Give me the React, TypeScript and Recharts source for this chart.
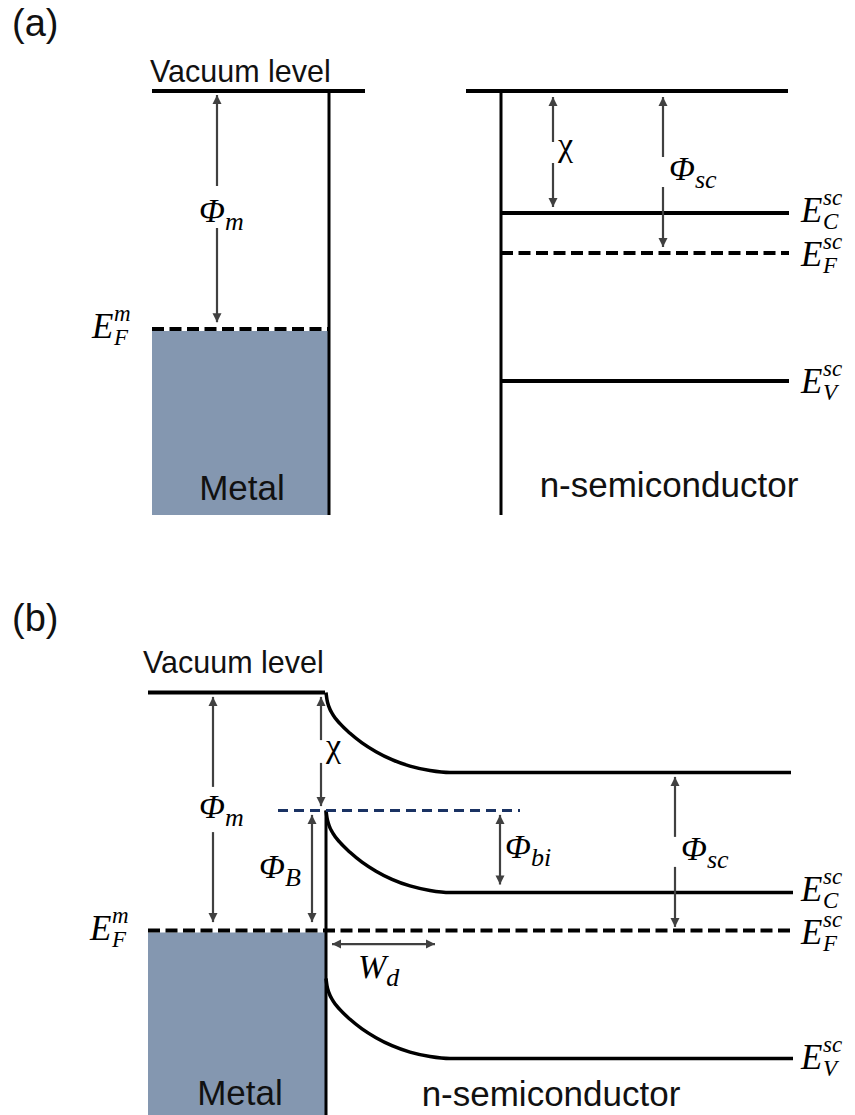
import React from "react";
import {
  ComposedChart,
  Line,
  ReferenceArea,
  ReferenceDot,
  ReferenceLine,
  XAxis,
  YAxis,
} from "recharts";

/* Metal / n-semiconductor band diagrams drawn on two Recharts charts:
   (a) the two materials apart, (b) the Schottky contact at equilibrium.
   x is a position along the diagram, y is energy in eV. */

const WIDTH = 855;
const H_A = 557;
const H_B = 558;
const PX_PER_EV = 40;

const INK = "#000000";
const ARROW = "#404040";
const METAL = "#8497b0";
const NAVY = "#1a3263";
const SANS = "'Liberation Sans', Arial, sans-serif";
const SERIF = "'Liberation Serif', 'Times New Roman', serif";
const DASH = "12 5.5";

// ---------- (a) separated materials, energy measured from the vacuum level
const A_TOP = 2.275;
const A_SOLID = [
  { x1: 152, x2: 365, e: 0 }, // metal vacuum level
  { x1: 466, x2: 788, e: 0 }, // semiconductor vacuum level
  { x1: 501, x2: 789, e: -3.05 }, // E_C
  { x1: 501, x2: 789, e: -7.25 }, // E_V
];
const A_DASHED = [
  { x1: 152, x2: 329, e: -5.95 }, // metal Fermi level
  { x1: 501, x2: 789, e: -4.05 }, // semiconductor Fermi level
];
const A_WALLS = [
  { x: 329, e1: 0, e2: -10.6 },
  { x: 501, e1: 0, e2: -10.6 },
];
const A_METAL = { x1: 152, x2: 329, e1: -6.0, e2: -10.6 };
const A_ARROWS = [
  { x1: 217, e1: -2.375, x2: 217, e2: -0.1, both: false },
  { x1: 217, e1: -3.425, x2: 217, e2: -5.78, both: false },
  { x1: 553, e1: -1.275, x2: 553, e2: -0.15, both: false },
  { x1: 553, e1: -1.8, x2: 553, e2: -2.9, both: false },
  { x1: 663, e1: -1.65, x2: 663, e2: -0.15, both: false },
  { x1: 663, e1: -2.4, x2: 663, e2: -3.9, both: false },
];
const A_TEXT = [
  { t: "(a)", x: 12, e: 1.375, size: 38, anchor: "start" },
  { t: "Vacuum level", x: 150, e: 0.225, size: 30.5, anchor: "start" },
  { t: "Metal", x: 242, e: -10.225, size: 35, anchor: "middle" },
  { t: "n-semiconductor", x: 669, e: -10.15, size: 35, anchor: "middle" },
];
const A_SYMBOLS = [
  { base: "Φ", sub: "m", x: 199, e: -3.275 },
  { base: "χ", x: 558, e: -1.62, upright: true },
  { base: "Φ", sub: "sc", x: 669, e: -2.225 },
  { base: "E", sub: "F", sup: "m", x: 92, e: -6.175 },
  { base: "E", sub: "C", sup: "sc", x: 801, e: -3.28 },
  { base: "E", sub: "F", sup: "sc", x: 801, e: -4.37 },
  { base: "E", sub: "V", sup: "sc", x: 801, e: -7.55 },
];

// ---------- (b) contact, energy measured from the common Fermi level
const B_TOP = 9.3375;
const B_SOLID = [{ x1: 148, x2: 325, e: 5.95 }]; // metal vacuum level
const B_DASHED = [{ x1: 148, x2: 790, e: 0 }]; // Fermi level
const B_NAVY = [{ x1: 278, x2: 520, e: 3.0 }]; // barrier top
const B_WALLS = [{ x: 326, e1: 3.0, e2: -4.65 }];
const B_METAL = { x1: 148, x2: 326, e1: -0.05, e2: -4.65 };

// band bending across the depletion region
const BEND_X = [326, 327, 329, 333, 340, 350, 362, 376, 392, 410, 430, 450];
const BEND_FRAC = [0, 0.09, 0.18, 0.28, 0.39, 0.51, 0.63, 0.74, 0.84, 0.92, 0.975, 1];
const B_BANDS = [
  { name: "vacuum", start: 5.95, bulk: 3.95, end: 791 },
  { name: "Ec", start: 3.0, bulk: 0.95, end: 793 },
  { name: "Ev", start: -1.2, bulk: -3.2, end: 793 },
];

const B_ARROWS = [
  { x1: 213, e1: 3.59, x2: 213, e2: 5.84, both: false },
  { x1: 213, e1: 2.46, x2: 213, e2: 0.21, both: false },
  { x1: 321, e1: 4.76, x2: 321, e2: 5.84, both: false },
  { x1: 321, e1: 4.19, x2: 321, e2: 3.11, both: false },
  { x1: 312, e1: 2.89, x2: 312, e2: 0.21, both: true },
  { x1: 500, e1: 2.89, x2: 500, e2: 1.15, both: true },
  { x1: 675, e1: 2.34, x2: 675, e2: 3.84, both: false },
  { x1: 675, e1: 1.59, x2: 675, e2: 0.09, both: false },
  { x1: 332, e1: -0.34, x2: 435, e2: -0.34, both: true },
];
const B_TEXT = [
  { t: "(b)", x: 12, e: 7.49, size: 38, anchor: "start" },
  { t: "Vacuum level", x: 143, e: 6.44, size: 30.5, anchor: "start" },
  { t: "Metal", x: 240, e: -4.36, size: 35, anchor: "middle" },
  { t: "n-semiconductor", x: 551, e: -4.39, size: 35, anchor: "middle" },
];
const B_SYMBOLS = [
  { base: "Φ", sub: "m", x: 199, e: 2.81 },
  { base: "χ", x: 326, e: 4.34, upright: true },
  { base: "Φ", sub: "B", x: 259, e: 1.31 },
  { base: "Φ", sub: "bi", x: 505, e: 1.81 },
  { base: "Φ", sub: "sc", x: 681, e: 1.76 },
  { base: "W", sub: "d", x: 358, e: -1.19 },
  { base: "E", sub: "F", sup: "m", x: 90, e: -0.24 },
  { base: "E", sub: "C", sup: "sc", x: 801, e: 0.74 },
  { base: "E", sub: "F", sup: "sc", x: 801, e: -0.34 },
  { base: "E", sub: "V", sup: "sc", x: 801, e: -3.46 },
];

type Seg = { x1: number; x2: number; e: number };
type Wall = { x: number; e1: number; e2: number };
type Arrow = { x1: number; e1: number; x2: number; e2: number; both: boolean };
type Txt = { t: string; x: number; e: number; size: number; anchor: string };
type Sym = { base: string; sub?: string; sup?: string; x: number; e: number; upright?: boolean };

const bandCurve = (b: { start: number; bulk: number; end: number }) => [
  ...BEND_X.map((x, i) => ({ x, e: b.start - BEND_FRAC[i] * (b.start - b.bulk) })),
  { x: b.end, e: b.bulk },
];

function arrowHead(x: number, y: number, ang: number) {
  const len = 9;
  const half = 4.5;
  const bx = x - len * Math.cos(ang);
  const by = y - len * Math.sin(ang);
  const px = -Math.sin(ang) * half;
  const py = Math.cos(ang) * half;
  return `${x},${y} ${bx + px},${by + py} ${bx - px},${by - py}`;
}

const arrowShape = (both: boolean) => (p: any) => {
  const { x1, y1, x2, y2 } = p;
  const ang = Math.atan2(y2 - y1, x2 - x1);
  return (
    <g>
      <line x1={x1} y1={y1} x2={x2} y2={y2} stroke={ARROW} strokeWidth={2.2} />
      <polygon points={arrowHead(x2, y2, ang)} fill={ARROW} />
      {both && <polygon points={arrowHead(x1, y1, ang + Math.PI)} fill={ARROW} />}
    </g>
  );
};

function SymbolText({ cx, cy, s }: { cx: number; cy: number; s: Sym }) {
  const isE = s.base === "E";
  const size = isE ? 35 : 34;
  const style = s.upright ? "normal" : "italic";
  if (s.sup) {
    // E with stacked superscript / subscript
    return (
      <g fontFamily={SERIF} fontStyle="italic" fill={INK}>
        <text x={cx} y={cy} fontSize={size}>{s.base}</text>
        <text x={cx + 22} y={cy - 17} fontSize={23}>{s.sup}</text>
        <text x={cx + 22} y={cy + 7} fontSize={23}>{s.sub}</text>
      </g>
    );
  }
  return (
    <text x={cx} y={cy} fontFamily={SERIF} fontSize={size} fill={INK}>
      <tspan fontStyle={style}>{s.base}</tspan>
      {s.sub && (
        <tspan fontStyle="italic" fontSize={26} dy={8}>
          {s.sub}
        </tspan>
      )}
    </text>
  );
}

function Panel(props: {
  height: number;
  top: number;
  solid: Seg[];
  dashed: Seg[];
  navy: Seg[];
  walls: Wall[];
  metal: { x1: number; x2: number; e1: number; e2: number };
  bands: { name: string; start: number; bulk: number; end: number }[];
  arrows: Arrow[];
  text: Txt[];
  symbols: Sym[];
}) {
  const { height, top } = props;
  const bottom = top - height / PX_PER_EV;
  return (
    <ComposedChart
      width={WIDTH}
      height={height}
      margin={{ top: 0, right: 0, bottom: 0, left: 0 }}
    >
      <XAxis type="number" dataKey="x" domain={[0, WIDTH]} hide allowDataOverflow />
      <YAxis type="number" domain={[bottom, top]} hide allowDataOverflow />
      <ReferenceArea
        x1={props.metal.x1}
        x2={props.metal.x2}
        y1={props.metal.e2}
        y2={props.metal.e1}
        fill={METAL}
        fillOpacity={1}
        stroke="none"
        ifOverflow="visible"
      />
      {props.solid.map((s, i) => (
        <Line
          key={`s${i}`}
          data={[{ x: s.x1, e: s.e }, { x: s.x2, e: s.e }]}
          dataKey="e"
          stroke={INK}
          strokeWidth={4}
          dot={false}
          activeDot={false}
          isAnimationActive={false}
        />
      ))}
      {props.walls.map((w, i) => (
        <Line
          key={`w${i}`}
          data={[{ x: w.x, e: w.e1 }, { x: w.x, e: w.e2 }]}
          dataKey="e"
          stroke={INK}
          strokeWidth={3}
          dot={false}
          activeDot={false}
          isAnimationActive={false}
        />
      ))}
      {props.bands.map((b) => (
        <Line
          key={b.name}
          data={bandCurve(b)}
          dataKey="e"
          type="monotoneX"
          stroke={INK}
          strokeWidth={3.5}
          dot={false}
          activeDot={false}
          isAnimationActive={false}
        />
      ))}
      {props.dashed.map((s, i) => (
        <Line
          key={`d${i}`}
          data={[{ x: s.x1, e: s.e }, { x: s.x2, e: s.e }]}
          dataKey="e"
          stroke={INK}
          strokeWidth={4}
          strokeDasharray={DASH}
          dot={false}
          activeDot={false}
          isAnimationActive={false}
        />
      ))}
      {props.navy.map((s, i) => (
        <Line
          key={`n${i}`}
          data={[{ x: s.x1, e: s.e }, { x: s.x2, e: s.e }]}
          dataKey="e"
          stroke={NAVY}
          strokeWidth={3}
          strokeDasharray="10 6"
          dot={false}
          activeDot={false}
          isAnimationActive={false}
        />
      ))}
      {props.arrows.map((a, i) => (
        <ReferenceLine
          key={`a${i}`}
          segment={[
            { x: a.x1, y: a.e1 },
            { x: a.x2, y: a.e2 },
          ]}
          shape={arrowShape(a.both)}
          ifOverflow="visible"
        />
      ))}
      {props.text.map((t, i) => (
        <ReferenceDot
          key={`t${i}`}
          x={t.x}
          y={t.e}
          r={0}
          ifOverflow="visible"
          shape={(p: any) => (
            <text
              x={p.cx}
              y={p.cy}
              textAnchor={t.anchor}
              fontFamily={SANS}
              fontSize={t.size}
              fill="#111111"
            >
              {t.t}
            </text>
          )}
        />
      ))}
      {props.symbols.map((s, i) => (
        <ReferenceDot
          key={`m${i}`}
          x={s.x}
          y={s.e}
          r={0}
          ifOverflow="visible"
          shape={(p: any) => <SymbolText cx={p.cx} cy={p.cy} s={s} />}
        />
      ))}
    </ComposedChart>
  );
}

export default function App() {
  return (
    <div style={{ width: WIDTH, background: "#ffffff" }}>
      <style>{"body{margin:0}"}</style>
      <Panel
        height={H_A}
        top={A_TOP}
        solid={A_SOLID}
        dashed={A_DASHED}
        navy={[]}
        walls={A_WALLS}
        metal={A_METAL}
        bands={[]}
        arrows={A_ARROWS}
        text={A_TEXT}
        symbols={A_SYMBOLS}
      />
      <Panel
        height={H_B}
        top={B_TOP}
        solid={B_SOLID}
        dashed={B_DASHED}
        navy={B_NAVY}
        walls={B_WALLS}
        metal={B_METAL}
        bands={B_BANDS}
        arrows={B_ARROWS}
        text={B_TEXT}
        symbols={B_SYMBOLS}
      />
    </div>
  );
}
